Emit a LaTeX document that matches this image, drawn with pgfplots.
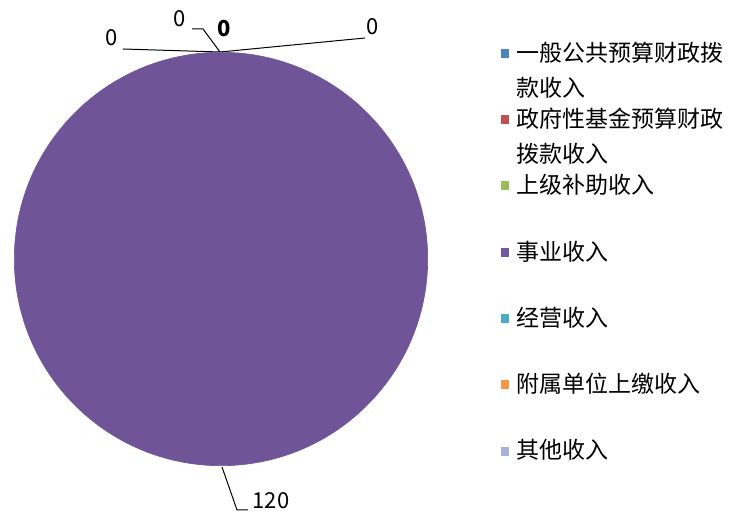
\documentclass[border=0pt]{standalone}
\usepackage{fontspec}
\setmainfont{Noto Sans CJK SC}
\usepackage{pgfplots}
\usepackage{pgfplotstable}
\pgfplotsset{compat=1.18}

\definecolor{c1}{HTML}{4F81BD}
\definecolor{c2}{HTML}{C0504D}
\definecolor{c3}{HTML}{9BBB59}
\definecolor{c4}{HTML}{7059A0}
\definecolor{c5}{HTML}{4BACC6}
\definecolor{c6}{HTML}{F79646}
\definecolor{c7}{HTML}{A5B4D6}
\definecolor{pie}{HTML}{6F5597}

% legend text: box 17.4bp tall so its middle is the middle of the glyphs
\newcommand{\ent}[1]{\rule{0pt}{17.4bp}\smash{#1}}
\newcommand{\two}[2]{\ent{\vtop{\baselineskip=35bp\hbox{#1}\hbox{#2}}}}

% label positions (px from left, from bottom) and values
\pgfplotstableread{
x y label
112 475 0
180 494 0
373 486 0
271 12 120
}\labels

\begin{document}
\begin{tikzpicture}
\useasboundingbox (0,0) rectangle (736bp,513bp);
\begin{axis}[
  at={(0,0)}, anchor=south west,
  scale only axis, width=736bp, height=513bp,
  xmin=0, xmax=736, ymin=0, ymax=513,
  hide axis, clip=false,
  legend style={at={(axis description cs:0.6807,0.9146)}, anchor=north west,
    draw=none, fill=none, inner sep=0pt, outer sep=0pt,
    row sep=47.4bp, column sep=8bp,
    nodes={inner sep=0pt, outer sep=0pt},
    font=\fontsize{23bp}{35bp}\selectfont},
  legend cell align=left,
  legend image code/.code={\fill[#1] (0bp,-4.5bp) rectangle (8bp,4.5bp);},
]
% the one slice: 120 of 120, a full circle
\addplot[only marks, mark=*, mark size=206.7bp, forget plot,
  mark options={solid, fill=pie, draw=pie, line width=0.6bp}] coordinates {(221,254)};

% leader lines
\addplot[black, line width=1bp, forget plot] coordinates {(123,464) (220,461)};
\addplot[black, line width=1bp, forget plot] coordinates {(192,484) (203,484) (220,461)};
\addplot[black, line width=1bp, forget plot] coordinates {(220,461) (365,475)};
\addplot[black, line width=1bp, forget plot] coordinates {(222,46) (237,3) (248,3)};

% labels
\addplot[draw=none, mark=none, forget plot, nodes near coords,
  point meta=explicit symbolic,
  nodes near coords style={anchor=center, font=\fontsize{22bp}{22bp}\selectfont}]
  table[meta=label] {\labels};
\addplot[draw=none, mark=none, forget plot, nodes near coords,
  point meta=explicit symbolic,
  nodes near coords style={anchor=center, font=\fontsize{22bp}{22bp}\selectfont\bfseries}]
  coordinates {(224,484) [0]};

\addlegendimage{fill=c1, draw=none}
\addlegendentry{\two{一般公共预算财政拨}{款收入}}
\addlegendimage{fill=c2, draw=none}
\addlegendentry{\two{政府性基金预算财政}{拨款收入}}
\addlegendimage{fill=c3, draw=none}
\addlegendentry{\ent{上级补助收入}}
\addlegendimage{fill=c4, draw=none}
\addlegendentry{\ent{事业收入}}
\addlegendimage{fill=c5, draw=none}
\addlegendentry{\ent{经营收入}}
\addlegendimage{fill=c6, draw=none}
\addlegendentry{\ent{附属单位上缴收入}}
\addlegendimage{fill=c7, draw=none}
\addlegendentry{\ent{其他收入}}
\end{axis}
\end{tikzpicture}
\end{document}
